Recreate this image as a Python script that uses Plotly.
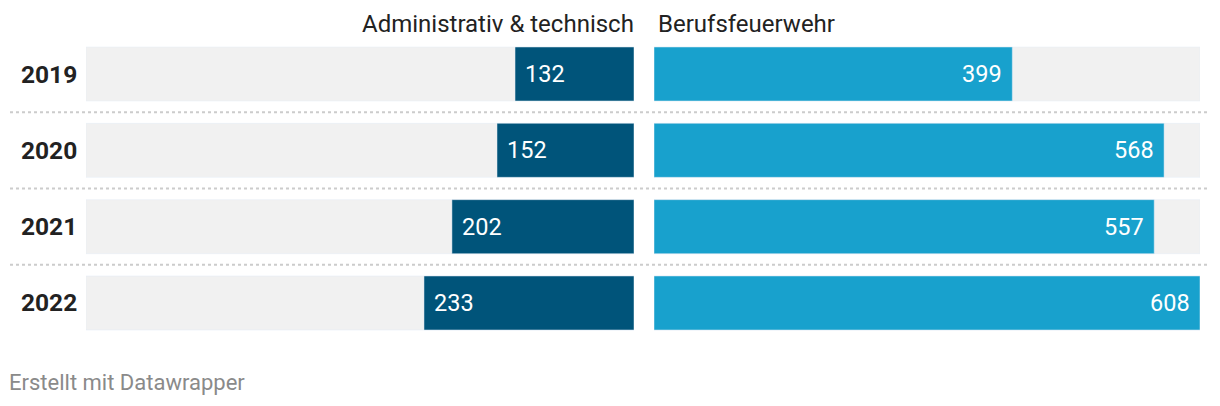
import plotly.graph_objects as go

years = ["2019", "2020", "2021", "2022"]
admin = [132, 152, 202, 233]
feuerwehr = [399, 568, 557, 608]
header_left = "Administrativ & technisch"
header_right = "Berufsfeuerwehr"
footer = "Erstellt mit Datawrapper"

W, H = 1220, 406
vmax = max(max(admin), max(feuerwehr))
pos = list(range(len(years)))

DARK = "#00547a"
LIGHT = "#18a1cd"
BG = "#f1f1f1"
FONT = "Roboto"
VAL_SIZE = 23.5

fig = go.Figure()

bw = 54 / 76.33
fig.add_trace(go.Bar(y=pos, x=[vmax] * len(years), orientation="h", marker_color=BG,
                     width=bw, xaxis="x", yaxis="y", hoverinfo="skip", showlegend=False))
fig.add_trace(go.Bar(y=pos, x=[vmax] * len(years), orientation="h", marker_color=BG,
                     width=bw, xaxis="x2", yaxis="y", hoverinfo="skip", showlegend=False))
fig.add_trace(go.Bar(y=pos, x=admin, orientation="h", marker_color=DARK, width=bw,
                     xaxis="x", yaxis="y", showlegend=False, name=header_left))
fig.add_trace(go.Bar(y=pos, x=feuerwehr, orientation="h", marker_color=LIGHT, width=bw,
                     xaxis="x2", yaxis="y", showlegend=False, name=header_right))

annotations = []
for p, yr, a, f in zip(pos, years, admin, feuerwehr):
    annotations.append(dict(x=a, y=p, xref="x", yref="y", text=str(a), showarrow=False,
                            xanchor="left", xshift=8, font=dict(family=FONT, size=VAL_SIZE, color="white")))
    annotations.append(dict(x=f, y=p, xref="x2", yref="y", text=str(f), showarrow=False,
                            xanchor="right", xshift=-8, font=dict(family=FONT, size=VAL_SIZE, color="white")))
    annotations.append(dict(x=79 / W, y=p, xref="paper", yref="y", text="<b>" + yr + "</b>",
                            showarrow=False, xanchor="right",
                            font=dict(family=FONT, size=24.5, color="#222222")))

annotations.append(dict(x=636 / W, y=1 - 24 / H, xref="paper", yref="paper", text=header_left,
                        showarrow=False, xanchor="right", yanchor="middle",
                        font=dict(family=FONT, size=24, color="#222222")))
annotations.append(dict(x=656 / W, y=1 - 24 / H, xref="paper", yref="paper", text=header_right,
                        showarrow=False, xanchor="left", yanchor="middle",
                        font=dict(family=FONT, size=24, color="#222222")))
annotations.append(dict(x=7 / W, y=1 - 382 / H, xref="paper", yref="paper", text=footer,
                        showarrow=False, xanchor="left", yanchor="middle",
                        font=dict(family=FONT, size=22, color="#8a8a8a")))

shapes = []
for i in pos[:-1]:
    shapes.append(dict(type="line", xref="paper", yref="y", x0=10 / W, x1=1208 / W,
                       y0=i + 0.5, y1=i + 0.5, line=dict(color="#cccccc", width=2, dash="dot")))

row_px = 76.33
top_idx = -74 / row_px
bot_idx = (H - 74) / row_px

fig.update_layout(
    width=W, height=H, margin=dict(l=0, r=0, t=0, b=0),
    paper_bgcolor="white", plot_bgcolor="white", barmode="overlay",
    font=dict(family=FONT),
    xaxis=dict(domain=[86 / W, 634 / W], range=[vmax, 0], visible=False, fixedrange=True),
    xaxis2=dict(domain=[654 / W, 1200 / W], range=[0, vmax], visible=False, fixedrange=True),
    yaxis=dict(domain=[0, 1], range=[bot_idx, top_idx], visible=False, fixedrange=True),
    annotations=annotations, shapes=shapes,
)

fig.write_html("out.html", config={"displayModeBar": False},
               post_script="document.body.style.margin='0';")
